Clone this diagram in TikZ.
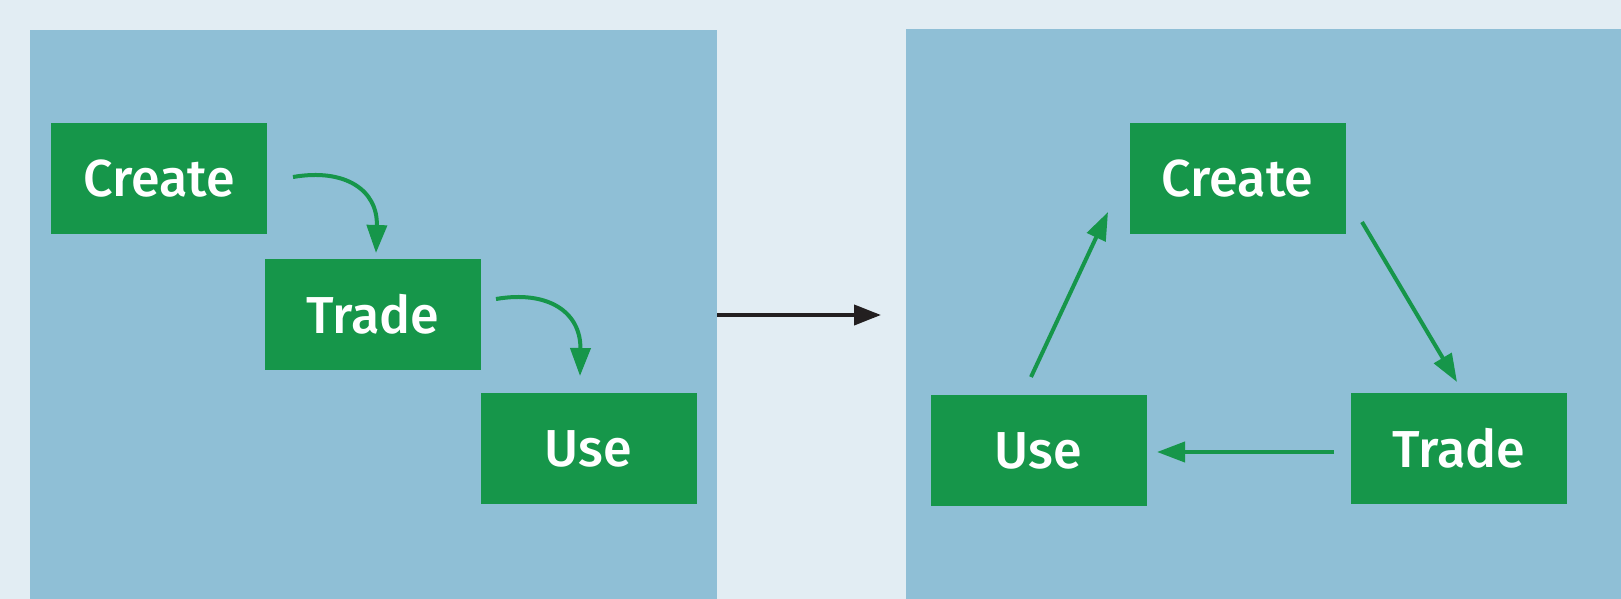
\documentclass[tikz,border=0pt]{standalone}
\usepackage{fontspec}
\setmainfont{Fira Sans Medium}
\usetikzlibrary{arrows.meta}
\definecolor{bgc}{HTML}{E2EDF3}
\definecolor{panelc}{HTML}{8FBFD6}
\definecolor{greenc}{HTML}{16964A}
\definecolor{darkc}{HTML}{231F20}
\tikzset{
  box/.style={fill=greenc, minimum width=216pt, minimum height=111pt, inner sep=0pt,
    text=white, font=\fontsize{52}{62}\selectfont},
  garrow/.style={draw=greenc, line width=4pt, -{Triangle[width=20pt,length=28pt]}},
  karrow/.style={draw=darkc, line width=4pt, -{Triangle[width=20pt,length=27pt]}},
}
\begin{document}
\begin{tikzpicture}[x=1pt,y=-1pt]
\fill[bgc] (0,0) rectangle (1621,599);
\useasboundingbox (0,0) rectangle (1621,599);
\fill[panelc] (30,30) rectangle (717,599);
\fill[panelc] (906,29) rectangle (1621,599);
% left
\node[box] (c1) at (159,178.5) {Create};
\node[box] (t1) at (373,314.5) {Trade};
\node[box] (u1) at (588.5,448.5) {Use};
\coordinate (a1s) at (293,177);
\coordinate (a1e) at (376,253);
\coordinate (a2s) at (496,299);
\coordinate (a2e) at (580,376);
\draw[garrow] (a1s) .. controls (345,168) and (378,190) .. (a1e);
\draw[garrow] (a2s) .. controls (548,290) and (581,312) .. (a2e);
% middle
\coordinate (ms) at (717,315);
\coordinate (me) at (881,315);
\draw[karrow] (ms) -- (me);
% right
\node[box] (c2) at (1237.5,178.5) {Create};
\node[box] (t2) at (1459,448.5) {Trade};
\node[box] (u2) at (1038.5,450.5) {Use};
\coordinate (b1s) at (1031,377);
\coordinate (b1e) at (1108,212);
\coordinate (b2s) at (1362,222);
\coordinate (b2e) at (1457,382);
\coordinate (b3s) at (1334,452);
\coordinate (b3e) at (1157,452);
\draw[garrow] (b1s) -- (b1e);
\draw[garrow] (b2s) -- (b2e);
\draw[garrow] (b3s) -- (b3e);
\end{tikzpicture}
\end{document}
